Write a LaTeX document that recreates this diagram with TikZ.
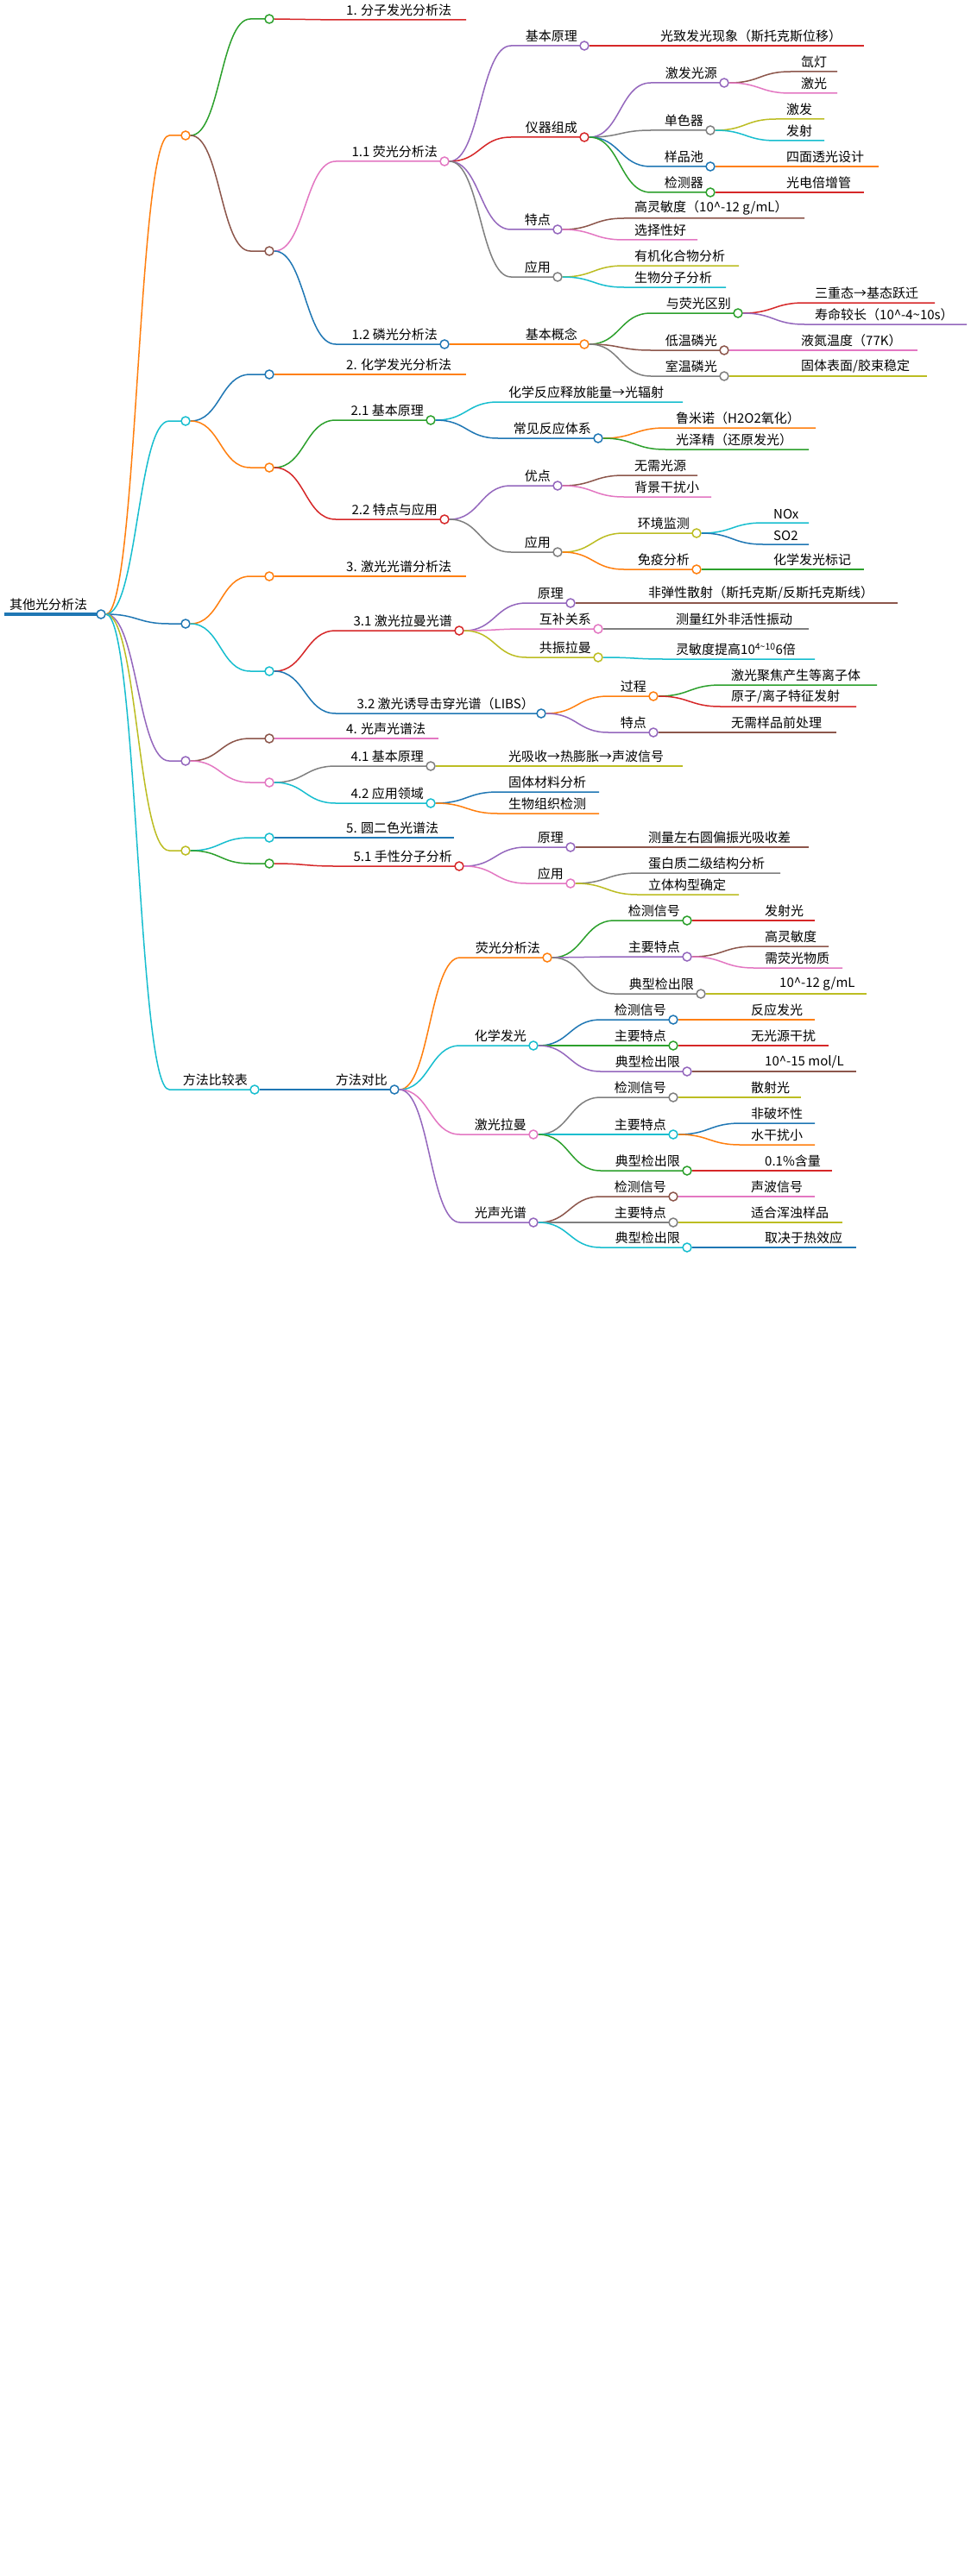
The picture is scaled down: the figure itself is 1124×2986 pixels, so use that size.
\documentclass[tikz,border=0pt]{standalone}
\usepackage{fontspec}
\setmainfont{Noto Sans CJK SC}
\usetikzlibrary{calc}
\definecolor{cB}{HTML}{1F77B4}\definecolor{cO}{HTML}{FF7F0E}\definecolor{cG}{HTML}{2CA02C}
\definecolor{cR}{HTML}{D62728}\definecolor{cP}{HTML}{9467BD}\definecolor{cN}{HTML}{8C564B}
\definecolor{cK}{HTML}{E377C2}\definecolor{cY}{HTML}{7F7F7F}\definecolor{cL}{HTML}{BCBD22}
\definecolor{cC}{HTML}{17BECF}
\tikzset{mmline/.style={line width=1.5pt},
 mmdot/.style={circle,fill=white,line width=1.5pt,minimum size=10pt,inner sep=0pt},
 mmtext/.style={font=\fontsize{15}{18}\selectfont,inner sep=0pt,yshift=4pt,text=black}}
\newcount\lfc
\newcommand\inode[7]{%
 \draw[mmline,#3] let \p1=(#1.east) in (\p1) .. controls ({(\x1+#4pt)/2},\y1) and ({(\x1+#4pt)/2},-#6pt) .. (#4pt,-#6pt) -- ({#5pt-5pt},-#6pt);
 \node[mmdot,draw=#3] (#2) at (#5pt,-#6pt) {};
 \node[mmtext,anchor=south east] (t#2) at ({#5pt-8pt},-#6pt) {#7};}
\newcommand\leaf[6]{\global\advance\lfc by 1
 \draw[mmline,#2] let \p1=(#1.east) in (\p1) .. controls ({(\x1+#3pt)/2},\y1) and ({(\x1+#3pt)/2},-#5pt) .. (#3pt,-#5pt) -- (#4pt,-#5pt);
 \node[mmtext,anchor=south west] (lf\the\lfc) at ({#3pt+12pt},-#5pt) {#6};}
\begin{document}
\begin{tikzpicture}
\useasboundingbox[fill=white] (0,0) rectangle (1124pt,-2986pt);
% root
\draw[cB,line width=3.5pt] (5pt,-712pt) -- (112pt,-712pt);
\node[mmdot,draw=cB] (root) at (117pt,-712pt) {};
\node[mmtext,anchor=south west] (troot) at (11pt,-712pt) {其他光分析法};
% A
\inode{root}{A}{cO}{196}{215}{157}{}
\inode{A}{A1}{cG}{290}{312}{22}{}
\leaf{A1}{cR}{389}{540}{23}{1. 分子发光分析法}
\inode{A}{A2}{cN}{290}{312}{291}{}
\inode{A2}{Aa}{cK}{389}{515}{187}{1.1 荧光分析法}
\inode{Aa}{Aa1}{cP}{592}{677}{53}{基本原理}
\leaf{Aa1}{cR}{753}{1001}{53}{光致发光现象（斯托克斯位移）}
\inode{Aa}{Aa2}{cR}{592}{677}{159}{仪器组成}
\inode{Aa2}{Ab1}{cP}{754}{839}{96}{激发光源}
\leaf{Ab1}{cN}{916}{970}{83}{氙灯}
\leaf{Ab1}{cK}{916}{970}{108}{激光}
\inode{Aa2}{Ab2}{cY}{754}{823}{151}{单色器}
\leaf{Ab2}{cL}{899}{955}{138}{激发}
\leaf{Ab2}{cC}{899}{955}{163}{发射}
\inode{Aa2}{Ab3}{cB}{754}{823}{193}{样品池}
\leaf{Ab3}{cO}{899}{1018}{193}{四面透光设计}
\inode{Aa2}{Ab4}{cG}{754}{823}{223}{检测器}
\leaf{Ab4}{cR}{899}{1001}{223}{光电倍增管}
\inode{Aa}{Aa3}{cP}{592}{646}{266}{特点}
\leaf{Aa3}{cN}{723}{932}{253}{高灵敏度（10\textasciicircum-12 g/mL）}
\leaf{Aa3}{cK}{723}{808}{278}{选择性好}
\inode{Aa}{Aa4}{cY}{592}{646}{321}{应用}
\leaf{Aa4}{cL}{723}{856}{308}{有机化合物分析}
\leaf{Aa4}{cC}{723}{841}{333}{生物分子分析}
\inode{A2}{Ab}{cB}{389}{515}{399}{1.2 磷光分析法}
\inode{Ab}{Ac}{cO}{592}{677}{399}{基本概念}
\inode{Ac}{Ac1}{cG}{754}{855}{363}{与荧光区别}
\leaf{Ac1}{cR}{932}{1083}{351}{三重态→基态跃迁}
\leaf{Ac1}{cP}{932}{1120}{376}{寿命较长（10\textasciicircum-4\textasciitilde10s）}
\inode{Ac}{Ac2}{cN}{754}{839}{406}{低温磷光}
\leaf{Ac2}{cK}{916}{1063}{406}{液氮温度（77K）}
\inode{Ac}{Ac3}{cY}{754}{839}{436}{室温磷光}
\leaf{Ac3}{cL}{916}{1074}{436}{固体表面/胶束稳定}
% B
\inode{root}{B}{cC}{196}{215}{488}{}
\inode{B}{B1}{cB}{290}{312}{434}{}
\leaf{B1}{cO}{389}{540}{434}{2. 化学发光分析法}
\inode{B}{B2}{cO}{290}{312}{542}{}
\inode{B2}{Ba}{cG}{389}{499}{487}{2.1 基本原理}
\leaf{Ba}{cC}{577}{791}{466}{化学反应释放能量→光辐射}
\inode{Ba}{Ba1}{cB}{577}{693}{508}{常见反应体系}
\leaf{Ba1}{cO}{771}{945}{496}{鲁米诺（H2O2氧化）}
\leaf{Ba1}{cG}{771}{937}{521}{光泽精（还原发光）}
\inode{B2}{Bb}{cR}{389}{515}{602}{2.2 特点与应用}
\inode{Bb}{Bb1}{cP}{592}{646}{563}{优点}
\leaf{Bb1}{cN}{723}{808}{551}{无需光源}
\leaf{Bb1}{cK}{723}{824}{576}{背景干扰小}
\inode{Bb}{Bb2}{cY}{592}{646}{640}{应用}
\inode{Bb2}{Bc1}{cL}{723}{807}{618}{环境监测}
\leaf{Bc1}{cC}{884}{937}{606}{NOx}
\leaf{Bc1}{cB}{884}{937}{631}{SO2}
\inode{Bb2}{Bc2}{cO}{723}{807}{660}{免疫分析}
\leaf{Bc2}{cG}{884}{1001}{660}{化学发光标记}
% C
\inode{root}{C}{cB}{196}{215}{723}{}
\inode{C}{C1}{cO}{290}{312}{668}{}
\leaf{C1}{cO}{389}{540}{668}{3. 激光光谱分析法}
\inode{C}{C2}{cC}{290}{312}{778}{}
\inode{C2}{Ca}{cR}{389}{532}{731}{3.1 激光拉曼光谱}
\inode{Ca}{Ca1}{cP}{610}{661}{699}{原理}
\leaf{Ca1}{cN}{739}{1040}{699}{非弹性散射（斯托克斯/反斯托克斯线）}
\inode{Ca}{Ca2}{cK}{610}{693}{729}{互补关系}
\leaf{Ca2}{cY}{771}{937}{729}{测量红外非活性振动}
\inode{Ca}{Ca3}{cL}{610}{693}{762}{共振拉曼}
\leaf{Ca3}{cC}{771}{944}{764}{灵敏度提高10\textsuperscript{4\textasciitilde10}6倍}
\inode{C2}{Cb}{cB}{389}{627}{827}{3.2 激光诱导击穿光谱（LIBS）}
\inode{Cb}{Cb1}{cO}{705}{757}{807}{过程}
\leaf{Cb1}{cG}{835}{1016}{794}{激光聚焦产生等离子体}
\leaf{Cb1}{cR}{835}{992}{819}{原子/离子特征发射}
\inode{Cb}{Cb2}{cP}{705}{757}{849}{特点}
\leaf{Cb2}{cN}{835}{969}{849}{无需样品前处理}
% D
\inode{root}{D}{cP}{196}{215}{882}{}
\inode{D}{D1}{cN}{290}{312}{856}{}
\leaf{D1}{cK}{389}{508}{856}{4. 光声光谱法}
\inode{D}{D2}{cK}{290}{312}{907}{}
\inode{D2}{Da}{cY}{389}{499}{888}{4.1 基本原理}
\leaf{Da}{cL}{577}{791}{888}{光吸收→热膨胀→声波信号}
\inode{D2}{Db}{cC}{389}{499}{931}{4.2 应用领域}
\leaf{Db}{cB}{577}{694}{918}{固体材料分析}
\leaf{Db}{cO}{577}{694}{943}{生物组织检测}
% E
\inode{root}{E}{cL}{196}{215}{986}{}
\inode{E}{E1}{cC}{290}{312}{971}{}
\leaf{E1}{cB}{389}{526}{971}{5. 圆二色光谱法}
\inode{E}{E2}{cG}{290}{312}{1001}{}
\inode{E2}{Ea}{cR}{389}{532}{1004}{5.1 手性分子分析}
\inode{Ea}{Ea1}{cP}{610}{661}{982}{原理}
\leaf{Ea1}{cN}{739}{937}{982}{测量左右圆偏振光吸收差}
\inode{Ea}{Ea2}{cK}{610}{661}{1024}{应用}
\leaf{Ea2}{cY}{739}{904}{1012}{蛋白质二级结构分析}
\leaf{Ea2}{cL}{739}{856}{1037}{立体构型确定}
% F
\inode{root}{F}{cC}{196}{295}{1263}{方法比较表}
\inode{F}{Fa}{cB}{372}{457}{1263}{方法对比}
\inode{Fa}{F1}{cO}{533}{634}{1110}{荧光分析法}
\inode{F1}{F11}{cG}{712}{796}{1067}{检测信号}
\leaf{F11}{cR}{874}{944}{1067}{发射光}
\inode{F1}{F12}{cP}{712}{796}{1109}{主要特点}
\leaf{F12}{cN}{874}{960}{1097}{高灵敏度}
\leaf{F12}{cK}{874}{976}{1122}{需荧光物质}
\inode{F1}{F13}{cY}{712}{812}{1152}{典型检出限}
\leaf{F13}{cL}{891}{1004}{1152}{10\textasciicircum-12 g/mL}
\inode{Fa}{F2}{cC}{533}{618}{1212}{化学发光}
\inode{F2}{F21}{cB}{696}{780}{1182}{检测信号}
\leaf{F21}{cO}{858}{944}{1182}{反应发光}
\inode{F2}{F22}{cG}{696}{780}{1212}{主要特点}
\leaf{F22}{cR}{858}{960}{1212}{无光源干扰}
\inode{F2}{F23}{cP}{696}{796}{1242}{典型检出限}
\leaf{F23}{cN}{874}{992}{1242}{10\textasciicircum-15 mol/L}
\inode{Fa}{F3}{cK}{533}{618}{1315}{激光拉曼}
\inode{F3}{F31}{cY}{696}{780}{1272}{检测信号}
\leaf{F31}{cL}{858}{928}{1272}{散射光}
\inode{F3}{F32}{cC}{696}{780}{1315}{主要特点}
\leaf{F32}{cB}{858}{944}{1302}{非破坏性}
\leaf{F32}{cO}{858}{944}{1327}{水干扰小}
\inode{F3}{F33}{cG}{696}{796}{1357}{典型检出限}
\leaf{F33}{cR}{874}{964}{1357}{0.1\%含量}
\inode{Fa}{F4}{cP}{533}{618}{1417}{光声光谱}
\inode{F4}{F41}{cN}{696}{780}{1387}{检测信号}
\leaf{F41}{cK}{858}{944}{1387}{声波信号}
\inode{F4}{F42}{cY}{696}{780}{1417}{主要特点}
\leaf{F42}{cL}{858}{976}{1417}{适合浑浊样品}
\inode{F4}{F43}{cC}{696}{796}{1446}{典型检出限}
\leaf{F43}{cB}{874}{992}{1446}{取决于热效应}
\end{tikzpicture}
\end{document}
